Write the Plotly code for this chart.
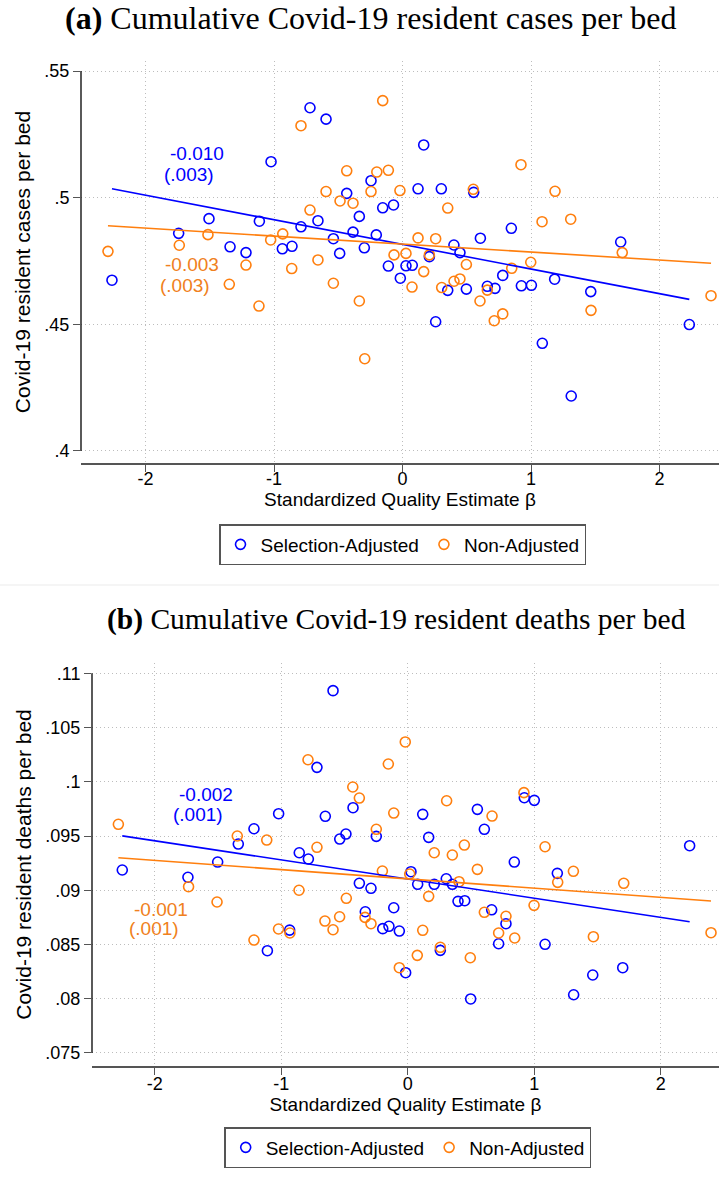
import plotly.graph_objects as go

W, H = 719, 1183
BLUE = "#0000FF"
ORANGE = "#FF7F0E"
ORANGE_TXT = "#F08020"
FONT = "Liberation Sans"
SERIF = "Liberation Serif"

# ---------------- Panel (a): cumulative cases per bed ----------------
a_sel_x = [-0.72, -0.595, -1.023, -0.434, -0.245, -0.154, -0.07, -0.336, -0.658, -1.506,
           -1.114, -0.79, -1.742, -0.538, -0.385, -0.204, -1.342, -1.218, -0.935, -0.86,
           -0.489, -0.297, 0.165, 0.121, 0.302, 0.554, 0.847, 0.606, 0.40, 0.447,
           0.209, 1.698, -0.11, -0.017, 0.027, 0.076, 0.352, 0.497, 0.66, 0.72,
           0.78, 0.925, 1.003, 1.184, 1.465, 0.258, 1.088, 1.313, 2.232, -2.261]
a_sel_y = [0.5355, 0.531, 0.5142, 0.5017, 0.5067, 0.496, 0.4971, 0.4926, 0.4909, 0.4917,
           0.4907, 0.4885, 0.4859, 0.4838, 0.4864, 0.4853, 0.4806, 0.4783, 0.4798, 0.4808,
           0.478, 0.4802, 0.5208, 0.5035, 0.5035, 0.5021, 0.4879, 0.484, 0.4813, 0.4783,
           0.4767, 0.4825, 0.473, 0.4682, 0.4731, 0.4733, 0.4634, 0.4639, 0.465, 0.4642,
           0.4693, 0.4652, 0.4654, 0.4678, 0.4629, 0.451, 0.4425, 0.4217, 0.4499, 0.4674]
a_non_x = [-0.154, -0.79, -0.434, -0.2, -0.11, -0.595, -0.245, -0.02, -0.486, -0.385,
           -0.72, -2.292, -1.737, -1.514, -1.026, -0.932, -0.066, 0.027, -0.658, 0.922,
           0.551, 1.187, 0.352, 1.086, 1.309, 0.121, 0.258, 0.209, 1.71, 0.497,
           0.165, 0.074, 0.305, 0.401, 0.447, 0.603, 0.66, 0.85, 0.998, 0.714,
           0.78, 1.467, 2.401, -1.218, -1.348, -1.117, -0.862, -0.538, -0.336, -0.294]
a_non_y = [0.5383, 0.5284, 0.5106, 0.5101, 0.5108, 0.5024, 0.5024, 0.5028, 0.4987, 0.4978,
           0.4951, 0.4788, 0.4812, 0.4854, 0.4833, 0.4857, 0.4774, 0.478, 0.4754, 0.513,
           0.5033, 0.5025, 0.4959, 0.4905, 0.4915, 0.4841, 0.4838, 0.4774, 0.4783, 0.4736,
           0.4708, 0.4647, 0.4645, 0.467, 0.4679, 0.4592, 0.4635, 0.4721, 0.4745, 0.4514,
           0.4541, 0.4555, 0.4613, 0.4734, 0.4658, 0.4572, 0.472, 0.4662, 0.4592, 0.4364]
a_sel_fit = [0.48155, -0.00972]   # intercept, slope
a_non_fit = [0.48168, -0.00315]
a_sel_label = ["-0.010", "(.003)"]
a_non_label = ["-0.003", "(.003)"]
a_yticks = [0.4, 0.45, 0.5, 0.55]
a_yticktext = [".4", ".45", ".5", ".55"]

# ---------------- Panel (b): cumulative deaths per bed ----------------
b_sel_x = [-0.591, -0.718, -1.021, -0.652, -0.433, -0.489, -0.538, -0.249, -1.216, -1.34,
           0.118, 0.165, 0.55, 0.605, 0.921, 1.0, 2.228, -2.257, -1.738, -1.503,
           -0.858, -0.786, -0.383, -0.291, -0.336, -0.198, -0.149, -0.111, -0.067, -0.934,
           -1.11, -0.017, 0.025, 0.078, 0.209, 0.304, 0.352, 0.842, 1.182, 0.397,
           0.45, 0.663, 0.776, 0.718, 1.085, 0.257, 0.497, 1.311, 1.462, 1.699]
b_sel_y = [0.1084, 0.10133, 0.09706, 0.09682, 0.09761, 0.09518, 0.09472, 0.09497, 0.09567, 0.09426,
           0.097, 0.09488, 0.09746, 0.09562, 0.09853, 0.09829, 0.09411, 0.09187, 0.0912, 0.0926,
           0.09346, 0.09288, 0.09064, 0.09018, 0.08802, 0.08646, 0.08668, 0.08839, 0.08624, 0.08633,
           0.08443, 0.0824, 0.09171, 0.09055, 0.09055, 0.09106, 0.09055, 0.0926, 0.09156, 0.08898,
           0.08904, 0.0882, 0.08692, 0.08507, 0.08502, 0.08446, 0.07998, 0.08037, 0.08219, 0.08286]
b_non_x = [-2.288, -0.789, -0.154, -0.02, -0.435, -0.383, -0.111, -0.249, -1.348, -1.115,
           -0.718, 0.307, 0.666, 0.918, 0.447, 1.085, -1.733, -1.508, -0.86, -0.486,
           -0.655, -0.539, -0.591, -0.338, -0.291, -0.201, -1.022, -0.932, -1.216, -0.067,
           0.209, 0.352, 0.55, 1.309, 0.405, 1.185, 1.707, 0.165, 0.998, 0.605,
           0.776, 0.118, 0.718, 0.845, 1.467, 0.257, 0.075, 0.494, 2.397, 0.015]
b_non_y = [0.09608, 0.10203, 0.10164, 0.10367, 0.09952, 0.0985, 0.09712, 0.09562, 0.095, 0.09463,
           0.09396, 0.09825, 0.09684, 0.099, 0.09417, 0.09401, 0.09033, 0.08892, 0.09, 0.08926,
           0.08716, 0.08756, 0.08636, 0.0875, 0.08692, 0.09177, 0.08643, 0.08606, 0.08541, 0.08286,
           0.09346, 0.09325, 0.09193, 0.09175, 0.09079, 0.09073, 0.09064, 0.08944, 0.08861, 0.08797,
           0.0876, 0.08631, 0.08606, 0.0856, 0.08572, 0.08474, 0.084, 0.08378, 0.08609, 0.0915]
b_sel_fit = [0.09103, -0.001766]
b_non_fit = [0.09105, -0.000851]
b_sel_label = ["-0.002", "(.001)"]
b_non_label = ["-0.001", "(.001)"]
b_yticks = [0.075, 0.08, 0.085, 0.09, 0.095, 0.1, 0.105, 0.11]
b_yticktext = [".075", ".08", ".085", ".09", ".095", ".1", ".105", ".11"]

xticks = [-2, -1, 0, 1, 2]
xticktext = ["-2", "-1", "0", "1", "2"]
series_names = ["Selection-Adjusted", "Non-Adjusted"]
titles = ["<b>(a)</b> Cumulative Covid-19 resident cases per bed",
          "<b>(b)</b> Cumulative Covid-19 resident deaths per bed"]
ytitles = ["Covid-19 resident cases per bed", "Covid-19 resident deaths per bed"]
xtitle = "Standardized Quality Estimate β"


def fit_line(xs, coef):
    lo, hi = min(xs), max(xs)
    return [lo, hi], [coef[0] + coef[1] * lo, coef[0] + coef[1] * hi]


fig = go.Figure()

panels = [
    dict(sx=a_sel_x, sy=a_sel_y, nx=a_non_x, ny=a_non_y, sf=a_sel_fit, nf=a_non_fit,
         xa="x", ya="y", leg="legend"),
    dict(sx=b_sel_x, sy=b_sel_y, nx=b_non_x, ny=b_non_y, sf=b_sel_fit, nf=b_non_fit,
         xa="x2", ya="y2", leg="legend2"),
]

for p in panels:
    for xs, ys, col, name in [(p["sx"], p["sy"], BLUE, series_names[0]),
                              (p["nx"], p["ny"], ORANGE, series_names[1])]:
        fig.add_trace(go.Scatter(
            x=xs, y=ys, mode="markers", name=name, xaxis=p["xa"], yaxis=p["ya"],
            legend=p["leg"],
            marker=dict(symbol="circle-open", size=10, color=col, line=dict(width=1.6, color=col)),
        ))
    for xs, coef, col in [(p["sx"], p["sf"], BLUE), (p["nx"], p["nf"], ORANGE)]:
        lx, ly = fit_line(xs, coef)
        fig.add_trace(go.Scatter(
            x=lx, y=ly, mode="lines", showlegend=False, xaxis=p["xa"], yaxis=p["ya"],
            line=dict(color=col, width=1.6), hoverinfo="skip",
        ))


def yp(px):
    return 1 - px / H


axis_common = dict(
    showgrid=True, gridcolor="#BDBDBD", griddash="1px,3px", gridwidth=1,
    zeroline=False, ticks="outside", ticklen=7, tickwidth=1.2, tickcolor="#555555",
    tickfont=dict(family=FONT, size=18, color="black"), automargin=False,
)

fig.update_layout(
    width=W, height=H, autosize=False,
    margin=dict(l=0, r=0, t=0, b=0),
    paper_bgcolor="white", plot_bgcolor="white",
    font=dict(family=FONT, color="black"),
    xaxis=dict(domain=[81 / W, 1], range=[-2.502, 2.463], anchor="y",
               tickvals=xticks, ticktext=xticktext, ticklabelstandoff=-8,
               showline=True, linecolor="#555555", linewidth=1.5,
               title=dict(text=xtitle, font=dict(size=19), standoff=0),
               **axis_common),
    yaxis=dict(domain=[yp(463), yp(61)], range=[0.39524, 0.55395], anchor="x",
               tickvals=a_yticks, ticktext=a_yticktext, showline=False,
               title=dict(text=ytitles[0], font=dict(size=21), standoff=8),
               **axis_common),
    xaxis2=dict(domain=[92 / W, 1], range=[-2.4964, 2.460], anchor="y2",
                tickvals=xticks, ticktext=xticktext, ticklabelstandoff=-6,
                showline=True, linecolor="#555555", linewidth=1.5,
                title=dict(text=xtitle, font=dict(size=19), standoff=0),
                **axis_common),
    yaxis2=dict(domain=[yp(1066), yp(663)], range=[0.07380, 0.11095], anchor="x2",
                tickvals=b_yticks, ticktext=b_yticktext, showline=False,
                title=dict(text=ytitles[1], font=dict(size=21), standoff=8),
                **axis_common),
    legend=dict(orientation="h", x=402.5 / W, xanchor="center", y=yp(524), yanchor="top",
                bordercolor="#555555", borderwidth=1.5, bgcolor="white",
                font=dict(family=FONT, size=19, color="black")),
    legend2=dict(orientation="h", x=407.7 / W, xanchor="center", y=yp(1127), yanchor="top",
                 bordercolor="#555555", borderwidth=1.5, bgcolor="white",
                 font=dict(family=FONT, size=19, color="black")),
    showlegend=True,
)

# y-axis lines spanning only the tick range (Stata style)
for xa, ya, yt in [("x", "y", a_yticks), ("x2", "y2", b_yticks)]:
    fig.add_shape(type="line", xref=f"{xa} domain", yref=ya, x0=0, x1=0,
                  y0=min(yt), y1=max(yt), line=dict(color="black", width=1.3))

# separator between panels
fig.add_shape(type="line", xref="paper", yref="paper", x0=0, x1=1, y0=yp(585), y1=yp(585),
              line=dict(color="#EBEBEB", width=1))

# panel titles
fig.add_annotation(text=titles[0], xref="paper", yref="paper", x=370 / W, y=yp(18),
                   xanchor="center", yanchor="middle",
                   showarrow=False, font=dict(family=SERIF, size=32, color="black"))
fig.add_annotation(text=titles[1], xref="paper", yref="paper", x=396.5 / W, y=yp(620),
                   xanchor="center", yanchor="middle",
                   showarrow=False, font=dict(family=SERIF, size=29.5, color="black"))

# coefficient labels
ann = [
    ("x", "y", -1.603, 0.5174, a_sel_label[0], BLUE),
    ("x", "y", -1.661, 0.5091, a_sel_label[1], BLUE),
    ("x", "y", -1.638, 0.4736, a_non_label[0], ORANGE_TXT),
    ("x", "y", -1.696, 0.4655, a_non_label[1], ORANGE_TXT),
    ("x2", "y2", -1.599, 0.09883, b_sel_label[0], BLUE),
    ("x2", "y2", -1.659, 0.09698, b_sel_label[1], BLUE),
    ("x2", "y2", -1.951, 0.08827, b_non_label[0], ORANGE_TXT),
    ("x2", "y2", -2.010, 0.08647, b_non_label[1], ORANGE_TXT),
]
for xr, yr, x, y, t, c in ann:
    fig.add_annotation(text=t, xref=xr, yref=yr, x=x, y=y, showarrow=False,
                       font=dict(family=FONT, size=19, color=c))

fig.write_html("out.html")
